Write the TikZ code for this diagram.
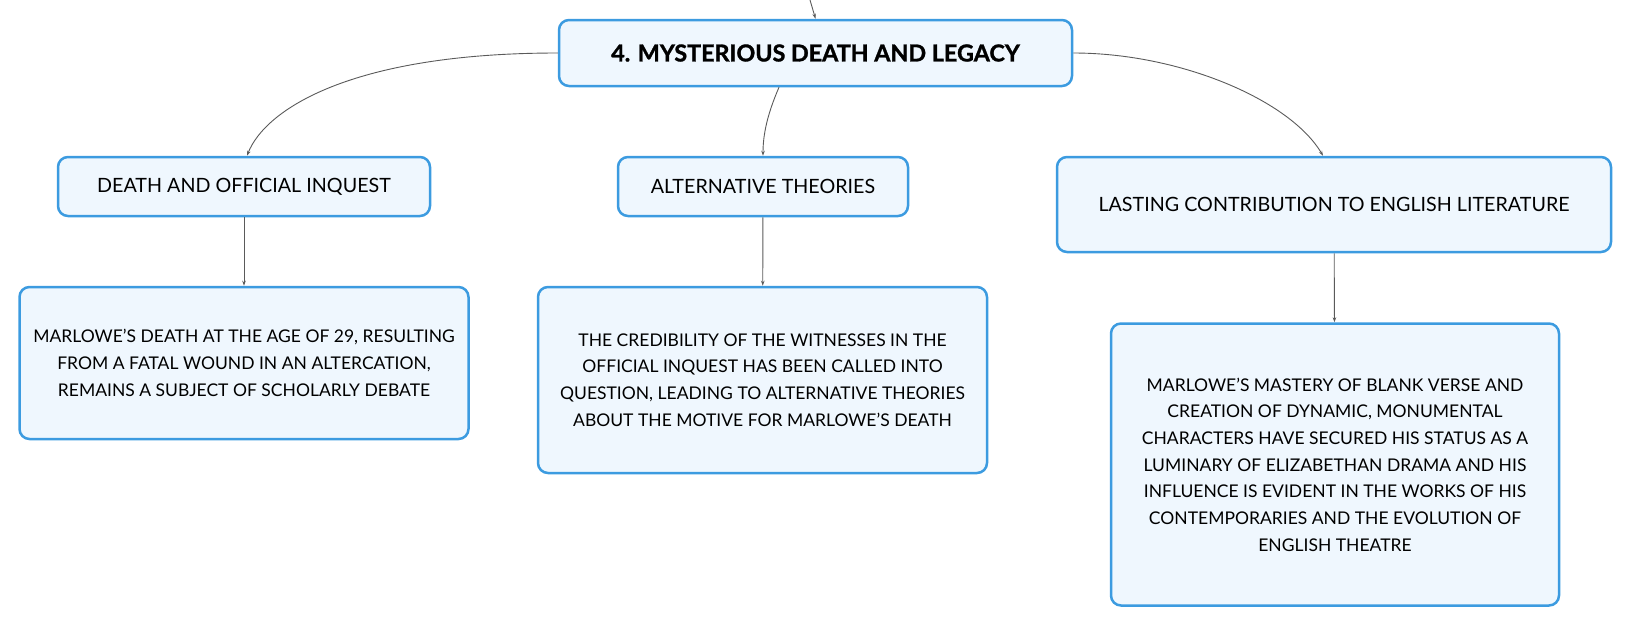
\documentclass[tikz,border=0pt]{standalone}
\usepackage{fontspec}
\setmainfont{Lato}[BoldFeatures={FakeBold=1.3}]
\usetikzlibrary{arrows.meta}

\definecolor{boxblue}{HTML}{3C9BE0}
\definecolor{boxfill}{HTML}{EFF7FE}
\definecolor{linkgray}{HTML}{5A5A5A}

\begin{document}
\begin{tikzpicture}
        [x=1pt,y=-1pt,
         box/.style={draw=boxblue,fill=boxfill,line width=2.5pt,rounded corners=10pt,
           align=center,inner sep=0,font=\fontsize{17.5}{26.7}\selectfont},
         topic/.style={box,font=\fontsize{19.7}{24}\selectfont},
         title/.style={box,font=\fontsize{23.3}{28}\selectfont\bfseries},
         link/.style={draw=linkgray,line width=0.9pt,-{Stealth[length=5pt,width=3.5pt]}}]

        \useasboundingbox (0,0) rectangle (1632,627);

        \coordinate (up) at (810,0);
        \node[title,minimum width=513pt,minimum height=66pt] (legacy) at (815.5,53) {4. MYSTERIOUS DEATH AND LEGACY};

        \node[topic,minimum width=372pt,minimum height=59pt] (inquest) at (244,186.5) {DEATH AND OFFICIAL INQUEST};
        \node[topic,minimum width=290pt,minimum height=59pt] (theories) at (763,186.5) {ALTERNATIVE THEORIES};
        \node[topic,minimum width=554pt,minimum height=95pt] (lasting) at (1334,204.5) {LASTING CONTRIBUTION TO ENGLISH LITERATURE};

        \node[box,minimum width=449pt,minimum height=152pt] (death) at (244,363)
          {MARLOWE'S DEATH AT THE AGE OF 29, RESULTING\\FROM A FATAL WOUND IN AN ALTERCATION,\\REMAINS A SUBJECT OF SCHOLARLY DEBATE};
        \node[box,minimum width=449pt,minimum height=186pt] (witness) at (762.5,380)
          {THE CREDIBILITY OF THE WITNESSES IN THE\\OFFICIAL INQUEST HAS BEEN CALLED INTO\\QUESTION, LEADING TO ALTERNATIVE THEORIES\\ABOUT THE MOTIVE FOR MARLOWE'S DEATH};
        \node[box,minimum width=448pt,minimum height=282pt] (mastery) at (1335,464.5)
          {MARLOWE'S MASTERY OF BLANK VERSE AND\\CREATION OF DYNAMIC, MONUMENTAL\\CHARACTERS HAVE SECURED HIS STATUS AS A\\LUMINARY OF ELIZABETHAN DRAMA AND HIS\\INFLUENCE IS EVIDENT IN THE WORKS OF HIS\\CONTEMPORARIES AND THE EVOLUTION OF\\ENGLISH THEATRE};

        \draw[link] (up) -- (legacy.north);
        \draw[link] (legacy.west) .. controls (350,53) and (265,110) .. ([xshift=3pt]inquest.north);
        \draw[link] ([xshift=-36.5pt]legacy.south) .. controls (767,115) and (763,135) .. (theories.north);
        \draw[link] (legacy.east) .. controls (1180,53) and (1290,100) .. ([xshift=-11pt]lasting.north);
        \draw[link] (inquest) -- (death);
        \draw[link] (theories) -- (witness);
        \draw[link] (lasting) -- (mastery);
      \end{tikzpicture}
\end{document}
